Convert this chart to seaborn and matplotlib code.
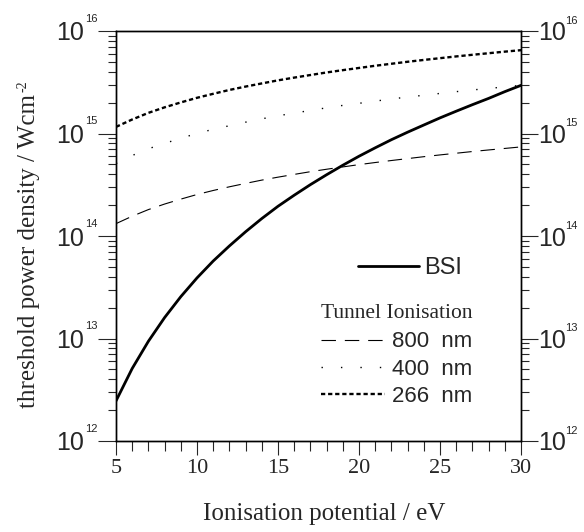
import numpy as np
import pandas as pd
import matplotlib
matplotlib.use("Agg")
import matplotlib.pyplot as plt
import seaborn as sns
from matplotlib.ticker import LogLocator, MultipleLocator, FuncFormatter

# ionisation potential (eV)
ip = list(range(5, 31))
# barrier suppression ionisation threshold (W/cm^2)
bsi = [2.46e12, 5.1e12, 9.4e12, 1.6e13, 2.56e13, 3.9e13, 5.7e13, 8.0e13, 1.1e14, 1.48e14,
       1.95e14, 2.5e14, 3.17e14, 3.96e14, 4.9e14, 6.0e14, 7.25e14, 8.7e14, 1.03e15, 1.21e15,
       1.42e15, 1.65e15, 1.91e15, 2.2e15, 2.56e15, 2.95e15]
# tunnel ionisation thresholds (W/cm^2)
ti_800 = [1.32e14, 1.56e14, 1.81e14, 2.05e14, 2.29e14, 2.54e14, 2.78e14, 3.02e14, 3.26e14, 3.51e14,
          3.75e14, 3.99e14, 4.24e14, 4.48e14, 4.72e14, 4.97e14, 5.21e14, 5.45e14, 5.69e14, 5.94e14,
          6.18e14, 6.42e14, 6.67e14, 6.91e14, 7.15e14, 7.40e14]
ti_400 = [5.1e14, 6.1e14, 7.1e14, 8.0e14, 9.0e14, 1.00e15, 1.10e15, 1.19e15, 1.29e15, 1.39e15,
          1.49e15, 1.58e15, 1.68e15, 1.78e15, 1.88e15, 1.97e15, 2.07e15, 2.17e15, 2.27e15, 2.36e15,
          2.46e15, 2.56e15, 2.66e15, 2.75e15, 2.85e15, 2.95e15]
ti_266 = [1.16e15, 1.37e15, 1.59e15, 1.80e15, 2.01e15, 2.23e15, 2.44e15, 2.66e15, 2.87e15, 3.08e15,
          3.30e15, 3.51e15, 3.72e15, 3.94e15, 4.15e15, 4.36e15, 4.58e15, 4.79e15, 5.01e15, 5.22e15,
          5.43e15, 5.65e15, 5.86e15, 6.07e15, 6.29e15, 6.50e15]

sns.set_style("ticks")
plt.rcParams['font.family'] = ['Liberation Sans', 'DejaVu Sans']
plt.rcParams['xtick.direction'] = 'out'
plt.rcParams['ytick.direction'] = 'out'

df = pd.DataFrame({'ip': ip, 'bsi': bsi, 't800': ti_800, 't400': ti_400, 't266': ti_266})

fig = plt.figure(figsize=(5.84, 5.32), dpi=100)
ax = fig.add_axes([116 / 584, 1 - 441 / 532, (521 - 116) / 584, (441 - 31) / 532])

sns.lineplot(data=df, x='ip', y='bsi', color='black', lw=2.0, label='BSI', ax=ax)
sns.lineplot(data=df, x='ip', y='t800', color='black', lw=0.8, ls=(0, (13, 8)), label='800  nm', ax=ax)
sns.lineplot(data=df, x='ip', y='t400', color='black', lw=1.0, ls=(0, (1, 13)), label='400  nm', ax=ax)
sns.lineplot(data=df, x='ip', y='t266', color='black', lw=1.7, ls=(0, (1.8, 1.2)), label='266  nm', ax=ax)

ax.set_yscale('log')
ax.set_xlim(5, 30)
ax.set_ylim(1e12, 1e16)

# ticks
ax.xaxis.set_major_locator(MultipleLocator(5))
ax.xaxis.set_minor_locator(MultipleLocator(1))
ax.yaxis.set_major_locator(LogLocator(base=10))
ax.yaxis.set_minor_locator(LogLocator(base=10, subs=np.arange(2, 10)))
ax.yaxis.set_major_formatter(FuncFormatter(lambda v, p: '10'))
ax.tick_params(axis='x', which='major', length=10, width=0.8, pad=3, labelsize=16)
ax.tick_params(axis='x', which='minor', length=7, width=0.8)
ax.tick_params(axis='y', which='major', length=13, width=0.8, pad=10, labelsize=18)
ax.tick_params(axis='y', which='minor', length=6, width=0.8)
for t in ax.get_xticklabels():
    t.set_fontfamily('Liberation Serif')

ax2 = ax.twinx()
ax2.set_yscale('log')
ax2.set_ylim(1e12, 1e16)
ax2.yaxis.set_major_locator(LogLocator(base=10))
ax2.yaxis.set_minor_locator(LogLocator(base=10, subs=np.arange(2, 10)))
ax2.yaxis.set_major_formatter(FuncFormatter(lambda v, p: '10'))
ax2.tick_params(axis='y', which='major', length=12, width=0.8, pad=0.5, labelsize=18)
ax2.tick_params(axis='y', which='minor', length=6, width=0.8)

# small exponents next to the "10" labels
for v in ax.get_yticks():
    if 1e12 <= v <= 1e16:
        e = str(int(round(np.log10(v))))
        ax.annotate(e, xy=(0, v), xycoords=ax.get_yaxis_transform(), xytext=(-22.3, 12.3),
                    textcoords='offset points', fontsize=8, ha='left', va='top')
        ax.annotate(e, xy=(1, v), xycoords=ax.get_yaxis_transform(), xytext=(31.5, 11),
                    textcoords='offset points', fontsize=8, ha='left', va='top')

for a in (ax, ax2):
    for s in a.spines.values():
        s.set_visible(True)
        s.set_linewidth(1.0)
        s.set_color('black')

ax.set_xlabel('Ionisation potential / eV', family='Liberation Serif', fontsize=18)
ax.xaxis.set_label_coords((324 - 116) / 405, 1 - (503 - 31) / 410)
ax.set_ylabel('threshold power density / Wcm', family='Liberation Serif', fontsize=18)
ax.yaxis.set_label_coords((40 - 116) / 405, 1 - (251 - 31) / 410)

# legends
lines = ax.get_lines()
leg1 = ax.legend(handles=[lines[0]], labels=['BSI'], loc='center left',
                 bbox_to_anchor=((358 - 116) / 405, 1 - (268 - 31) / 410),
                 frameon=False, fontsize=17, handlelength=2.6, handletextpad=0.2,
                 borderpad=0, borderaxespad=0)
ax.add_artist(leg1)
leg2 = ax.legend(handles=lines[1:4], labels=['800  nm', '400  nm', '266  nm'], loc='upper left',
                 bbox_to_anchor=((321 - 116) / 405, 1 - (304 - 31) / 410),
                 frameon=False, fontsize=16, handlelength=2.9, handletextpad=0.3,
                 labelspacing=0.28, borderpad=0, borderaxespad=0,
                 title='Tunnel Ionisation', alignment='left')
leg2.get_title().set_fontfamily('Liberation Serif')
leg2.get_title().set_fontsize(15.5)
leg2._legend_box.sep = 6

# small "-2" exponent after the y label
fig.canvas.draw()
bb = ax.yaxis.label.get_window_extent()
fig.text((bb.x0 - 1) / fig.bbox.width, (bb.y1 + 2) / fig.bbox.height, '-2',
         family='Liberation Serif', fontsize=10, rotation=90, ha='left', va='bottom')

fig.savefig('out.png', dpi=100)
